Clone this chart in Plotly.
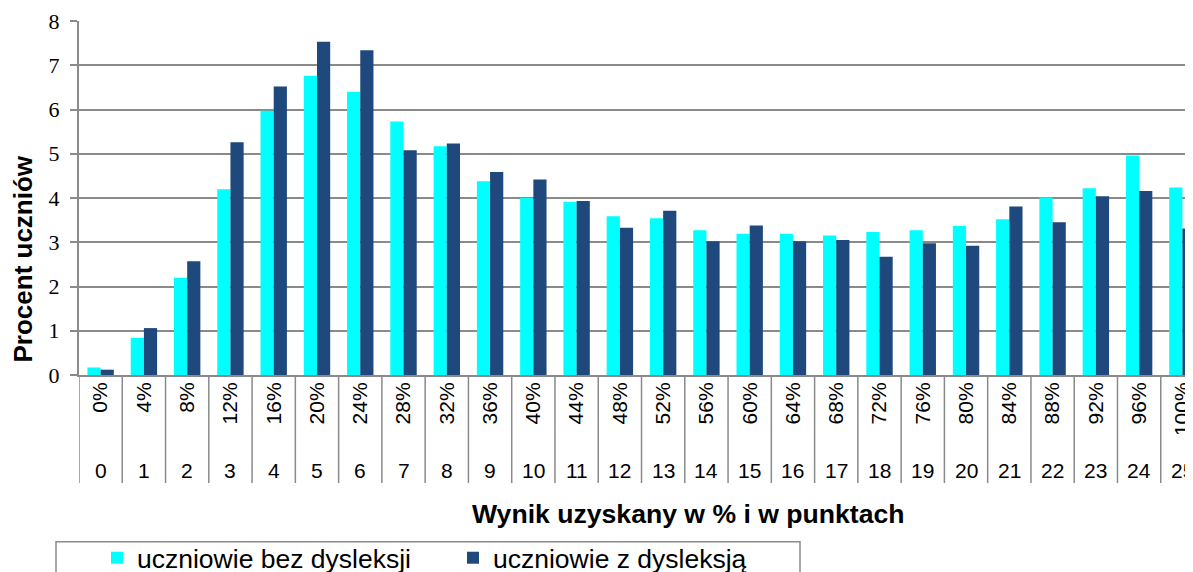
import plotly.graph_objects as go

points = list(range(26))
percent_labels = [f"{p * 4}%" for p in points]
point_labels = [str(p) for p in points]

bez_dysleksji = [0.17, 0.84, 2.20, 4.20, 5.97, 6.76, 6.40, 5.73, 5.17, 4.38,
                 4.00, 3.91, 3.59, 3.54, 3.27, 3.19, 3.19, 3.15, 3.23, 3.27,
                 3.37, 3.52, 4.01, 4.22, 4.96, 4.24]
z_dysleksja = [0.12, 1.06, 2.57, 5.26, 6.52, 7.53, 7.34, 5.08, 5.23, 4.59,
               4.42, 3.93, 3.33, 3.71, 3.02, 3.38, 3.02, 3.05, 2.67, 2.98,
               2.92, 3.81, 3.45, 4.04, 4.16, 3.31]

# the page body has an 8px margin; size the figure so the plot lands where the reference has it
OFF = 8
W, H = 1193 - OFF, 572 - OFF
L, R, T, B = 79 - OFF, 0, 21 - OFF, 197
pw, ph = W - L - R, H - T - B

def px_x(p):
    return (p - OFF - L) / pw

def px_y(p):
    return (H - B - (p - OFF)) / ph

grid = "#8a8a8a"
sans = "Liberation Sans, Arial, sans-serif"
serif = "Liberation Serif, Times New Roman, serif"

fig = go.Figure()
fig.add_trace(go.Bar(x=points, y=bez_dysleksji, name="uczniowie bez dysleksji",
                     marker=dict(color="#00FFFF", line=dict(width=0))))
fig.add_trace(go.Bar(x=points, y=z_dysleksja, name="uczniowie z dysleksją",
                     marker=dict(color="#1F497D", line=dict(width=0))))

shapes = []
for k in range(26):
    shapes.append(dict(type="line", xref="x", yref="paper", x0=k - 0.5, x1=k - 0.5,
                       y0=0, y1=px_y(483), line=dict(color=grid, width=1.5)))
# legend box
shapes.append(dict(type="rect", xref="paper", yref="paper",
                   x0=px_x(56), x1=px_x(800), y0=px_y(541.7), y1=px_y(600),
                   line=dict(color=grid, width=1.5), fillcolor="rgba(0,0,0,0)"))

annotations = []
for i, lab in zip(points, point_labels):
    annotations.append(dict(x=i, xref="x", y=px_y(470), yref="paper", text=lab,
                            showarrow=False, xanchor="center", yanchor="middle",
                            font=dict(family=sans, size=21, color="#000")))
annotations.append(dict(x=px_x(688), y=px_y(514), xref="paper", yref="paper",
                        text="<b>Wynik uzyskany w % i w punktach</b>", showarrow=False,
                        xanchor="center", yanchor="middle",
                        font=dict(family=sans, size=26.6, color="#000")))
annotations.append(dict(x=px_x(22), y=px_y(259.5), xref="paper", yref="paper",
                        text="<b>Procent uczniów</b>", showarrow=False, textangle=-90,
                        xanchor="center", yanchor="middle",
                        font=dict(family=sans, size=26, color="#000")))

fig.update_layout(
    width=W, height=H,
    margin=dict(l=L, r=R, t=T, b=B, autoexpand=False),
    paper_bgcolor="white", plot_bgcolor="white",
    barmode="group", bargap=0.39, bargroupgap=0,
    shapes=shapes, annotations=annotations,
    showlegend=True,
    legend=dict(orientation="h", x=px_x(97), y=px_y(534), xanchor="left", yanchor="top",
                font=dict(family=sans, size=26.5, color="#000"),
                entrywidth=311, entrywidthmode="pixels",
                bgcolor="rgba(0,0,0,0)", borderwidth=0, traceorder="normal"),
    xaxis=dict(range=[-0.5, 25.245], tickmode="array", tickvals=points,
               ticktext=percent_labels, tickangle=-90, ticks="",
               ticklabelstandoff=-3, ticklabeloverflow="allow",
               tickfont=dict(family=sans, size=21, color="#000"),
               showgrid=False, zeroline=False, showline=True,
               linecolor=grid, linewidth=2),
    yaxis=dict(range=[0, 8], dtick=1, tick0=0, ticks="outside", ticklen=7,
               tickcolor=grid, tickwidth=1.5, ticklabelstandoff=6,
               tickfont=dict(family=serif, size=22, color="#000"),
               showgrid=True, gridcolor=grid, gridwidth=1.5,
               zeroline=False, showline=True, linecolor=grid, linewidth=2),
)

fig.write_html("out.html")
